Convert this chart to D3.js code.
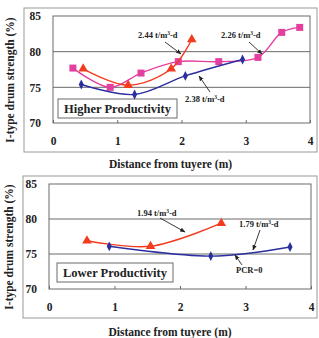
<!DOCTYPE html>
<html>
<head>
<meta charset="utf-8">
<script src="https://cdn.jsdelivr.net/npm/d3@7"></script>
<style>
  body { margin: 0; background: #fff; }
  svg text { font-family: "Liberation Serif", "DejaVu Serif", serif; font-weight: bold; fill: #222; }
</style>
</head>
<body>
<svg id="chart" width="319" height="338"></svg>
<script>
// top panel (higher productivity)
const hiPink = [[0.31, 77.7], [0.89, 75.0], [1.37, 77.0], [1.95, 78.6], [2.58, 78.6], [3.19, 79.2], [3.56, 82.7], [3.84, 83.4]];
const hiRed = [[0.47, 77.6], [1.17, 75.3], [1.84, 77.6], [2.16, 81.7]];
const hiBlue = [[0.44, 75.4], [1.27, 74.0], [2.06, 76.6], [2.95, 78.9]];
// bottom panel (lower productivity)
const loRed = [[0.58, 76.9], [1.55, 76.1], [2.63, 79.4]];
const loBlue = [[0.92, 76.1], [2.47, 74.7], [3.68, 76.0]];

const xTicks = [0, 1, 2, 3, 4];
const yTicks = [70, 75, 80, 85];

const PINK = '#e33f9f', RED = '#f23b1f', BLUE = '#2b2f9e';

const svg = d3.select('#chart');

const defs = svg.append('defs');
defs.append('marker')
  .attr('id', 'arrow')
  .attr('viewBox', '0 0 10 10')
  .attr('refX', 9).attr('refY', 5)
  .attr('markerWidth', 6).attr('markerHeight', 6)
  .attr('orient', 'auto')
  .append('path')
  .attr('d', 'M0,1 L10,5 L0,9 Z')
  .attr('fill', '#222');

function drawPanel(cfg) {
  const g = svg.append('g');

  g.append('rect')
    .attr('x', cfg.frame[0]).attr('y', cfg.frame[1])
    .attr('width', cfg.frame[2] - cfg.frame[0]).attr('height', cfg.frame[3] - cfg.frame[1])
    .attr('fill', 'none').attr('stroke', '#9a9a9a').attr('stroke-width', 1);

  const x = d3.scaleLinear().domain([0, 4]).range([cfg.plot[0], cfg.plot[2]]);
  const y = d3.scaleLinear().domain([70, 85]).range([cfg.plot[3], cfg.plot[1]]);

  // grid
  g.selectAll('.grid')
    .data(yTicks.slice(1, -1))
    .enter().append('line')
    .attr('x1', x(0)).attr('x2', x(4))
    .attr('y1', d => y(d)).attr('y2', d => y(d))
    .attr('stroke', '#6a6a6a').attr('stroke-width', 1);

  g.append('rect')
    .attr('x', x(0)).attr('y', y(85))
    .attr('width', x(4) - x(0)).attr('height', y(70) - y(85))
    .attr('fill', 'none').attr('stroke', '#6a6a6a').attr('stroke-width', 1);

  const xAxis = g.append('g')
    .attr('transform', `translate(0,${y(70)})`)
    .call(d3.axisBottom(x).tickValues(xTicks).tickFormat(d3.format('d')).tickSize(-3).tickPadding(14));
  xAxis.select('.domain').remove();
  xAxis.selectAll('line').attr('stroke', '#6a6a6a');
  xAxis.selectAll('text').style('font-size', '11.5px').attr('fill', '#222');

  const yAxis = g.append('g')
    .attr('transform', `translate(${x(0)},0)`)
    .call(d3.axisLeft(y).tickValues(yTicks).tickSize(0).tickPadding(12));
  yAxis.select('.domain').remove();
  yAxis.selectAll('text').style('font-size', '11.5px').attr('fill', '#222');

  g.append('text')
    .attr('x', (cfg.frame[0] + cfg.frame[2]) / 2)
    .attr('y', cfg.xTitleY)
    .attr('text-anchor', 'middle')
    .style('font-size', '11.5px')
    .text('Distance from tuyere (m)');

  g.append('text')
    .attr('transform', `translate(${cfg.yTitleX},${(cfg.frame[1] + cfg.frame[3]) / 2}) rotate(-90)`)
    .attr('text-anchor', 'middle')
    .style('font-size', '11.5px')
    .text('I-type drum strength (%)');

  // legend box
  g.append('rect')
    .attr('x', cfg.box[0]).attr('y', cfg.box[1])
    .attr('width', cfg.box[2] - cfg.box[0]).attr('height', cfg.box[3] - cfg.box[1])
    .attr('fill', '#fff').attr('stroke', '#6a6a6a');
  g.append('text')
    .attr('x', (cfg.box[0] + cfg.box[2]) / 2)
    .attr('y', (cfg.box[1] + cfg.box[3]) / 2 + 4.5)
    .attr('text-anchor', 'middle')
    .style('font-size', '12.5px')
    .text(cfg.boxLabel);

  const line = d3.line().x(d => x(d[0])).y(d => y(d[1])).curve(d3.curveCatmullRom.alpha(0.5));

  cfg.series.forEach(s => {
    g.append('path')
      .datum(s.data)
      .attr('d', line)
      .attr('fill', 'none')
      .attr('stroke', s.color)
      .attr('stroke-width', 1.4);

    const sym = d3.symbol().type(s.shape).size(s.size);
    g.selectAll(null)
      .data(s.data)
      .enter().append('path')
      .attr('transform', d => `translate(${x(d[0])},${y(d[1])})` + (s.shape === d3.symbolDiamond ? ' scale(0.9,1)' : ''))
      .attr('d', sym)
      .attr('fill', s.color);
  });

  cfg.notes.forEach(n => {
    const t = g.append('text')
      .attr('x', n.x).attr('y', n.y)
      .style('font-size', '8.5px');
    t.append('tspan').text(n.text[0]);
    if (n.text.length > 1) {
      t.append('tspan').attr('dy', -3).style('font-size', '5.5px').text('3');
      t.append('tspan').attr('dy', 3).text(n.text[1]);
    }
    g.append('line')
      .attr('x1', n.arrow[0]).attr('y1', n.arrow[1])
      .attr('x2', n.arrow[2]).attr('y2', n.arrow[3])
      .attr('stroke', '#222').attr('stroke-width', 0.9)
      .attr('marker-end', 'url(#arrow)');
  });
}

drawPanel({
  frame: [24, 8, 317, 152],
  plot: [53, 16, 310, 123],
  xTitleY: 168,
  yTitleX: 14,
  box: [58, 99, 177, 118],
  boxLabel: 'Higher Productivity',
  series: [
    { data: hiPink, color: PINK, shape: d3.symbolSquare, size: 49 },
    { data: hiRed, color: RED, shape: d3.symbolTriangle, size: 40 },
    { data: hiBlue, color: BLUE, shape: d3.symbolDiamond, size: 28 }
  ],
  notes: [
    { x: 138, y: 38, text: ['2.44 t/m', '-d'], arrow: [165, 42, 181, 54] },
    { x: 221, y: 38, text: ['2.26 t/m', '-d'], arrow: [249, 42, 262, 54] },
    { x: 185, y: 102, text: ['2.38 t/m', '-d'], arrow: [210, 92, 199, 76] }
  ]
});

drawPanel({
  frame: [23, 176, 317, 318],
  plot: [49, 184, 311, 289],
  xTitleY: 336,
  yTitleX: 13,
  box: [57, 263, 173, 282],
  boxLabel: 'Lower Productivity',
  series: [
    { data: loRed, color: RED, shape: d3.symbolTriangle, size: 40 },
    { data: loBlue, color: BLUE, shape: d3.symbolDiamond, size: 28 }
  ],
  notes: [
    { x: 137, y: 216, text: ['1.94 t/m', '-d'], arrow: [160, 218, 185, 232] },
    { x: 239, y: 227, text: ['1.79 t/m', '-d'], arrow: [260, 230, 253, 250] },
    { x: 236, y: 273, text: ['PCR=0'], arrow: [242, 265, 235, 255] }
  ]
});
</script>
</body>
</html>
